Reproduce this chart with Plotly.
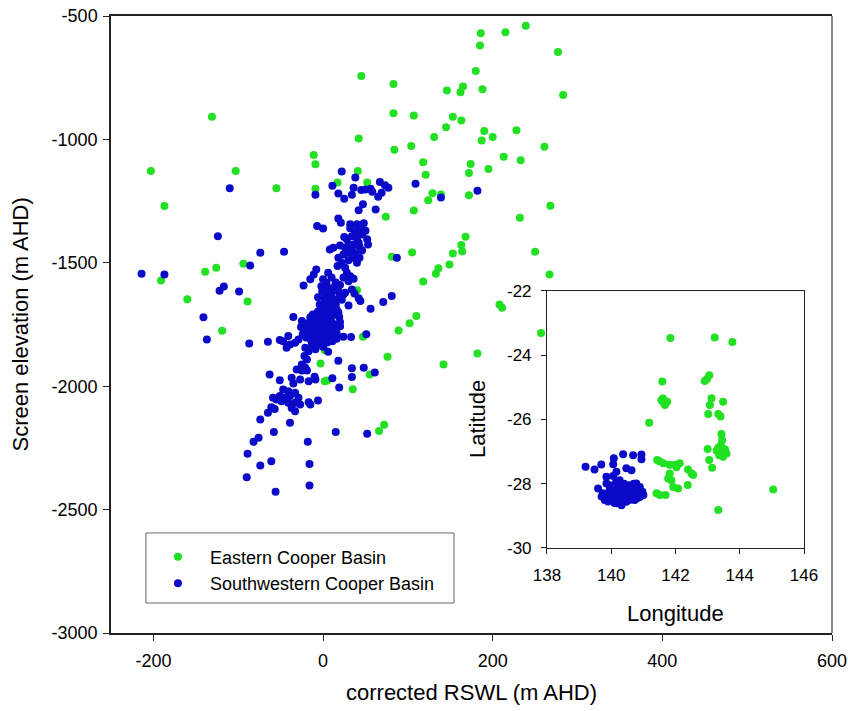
import plotly.graph_objects as go

# ---------------- main panel data ----------------
east_rswl = [-131, -203, -103, -187, -55, -94, -126, -139, -191, -160, -89, -119,
             83, 107, 153, 42, 131, 145, -11, -9, 84, 104, 118, 121, 41, 17, 52, -9,
             129, 124, 139, 74, 107, 81, 105, 153, 136, 133, 149, 118, 40, 110, 102,
             89, 47, 2, -3, 76, 142, 55, 2, 5, 35, 66, 72,
             239, 215, 186, 185, 277, 180, 45, 83, 146, 162, 165, 188, 283, 163, 190,
             228, 187, 200, 261, 213, 233, 174, 172, 195, 172, 268, 232, 168, 163,
             164, 250, 267, 208, 211, 257, 182]
east_elev = [-908, -1128, -1128, -1270, -1198, -1504, -1520, -1536, -1572, -1648, -1657, -1775,
             -894, -903, -908, -996, -990, -951, -1063, -1101, -1042, -1027, -1093, -1143,
             -1128, -1175, -1175, -1200, -1218, -1247, -1223, -1313, -1288, -1475, -1458,
             -1462, -1522, -1544, -1507, -1576, -1611, -1716, -1745, -1774, -1800, -1854,
             -1908, -1881, -1912, -1953, -1980, -1977, -2012, -2182, -2156,
             -540, -566, -570, -620, -646, -723, -743, -776, -802, -809, -786, -797, -820,
             -923, -966, -963, -1004, -990, -1030, -1070, -1084, -1100, -1136, -1120,
             -1226, -1269, -1317, -1394, -1428, -1454, -1455, -1547, -1669, -1682, -1784,
             -1867]

sw_rswl = [-110, -124, -74, -46, -86, -214, -187, -122, -117, -99, -141, -137, -87, -65, -51,
           22, 38, 11, -9, 18, 25, 34, 36, 45, 50, 56, 58, 67, 73, 77, 69, 65, 109, 139, 182,
           47, 42, 62, 18, 21, -7, 0, 32, 40, 48, 38, 34, 28, 30, 36, 42, 46, 52, 53, 26, 34,
           43, 38, 8, 12, 24, 28, 43, 87, -8, -11, -15, -23, 17, 26, 28, 24, 32, 6, 10, 4, 0,
           -2, 6, 14, 2, 10, 18, 26, 34, 81, 71, 56, 30, 42, 44, 24, 37, 15, 16, -1, 8, 14, 6,
           12, -35, -25,
           -15, -9, -4, 2, 8, -13, -6, 1, 8, 14, -17, -9, -2, 5, 12, -13, -6, 1, 8, -8, -1, 5,
           -21, -20, 19, 20, 16, 8, 16, 24, 33, -41, -47, -39, -33, -29, -43,
           -21, -17, -22, -19, -25, -21, -31, -25, -19, -63, -51, -37, -35, -27, -17, -9,
           -47, -41, -51, -45, -39, -33, -29, -55, -49, -41, -33, -27, -59, -15, -6, -61, -57,
           -65, -33, -37, -74, -39, -58, 15, 52, -18, -82, -76, -89, -61, -74, -16, -90, -16,
           -56, 51, 6, 18, 34, 48, 61, 34, 11, 19, -10, -17, -6, 2, -4, 4, 11, -6, -12,
           -18, -12, -3, 4, 10, -16, -10, -3, 3, 10, -14, -4, 3, 11, -11, -5, 2, 9, 15,
           -7, 0, 6, 12, -2, 8, 14, 2, 10, -9, 0, -13, 20, 18, 22, 20, -1, -24, -26, -9,
           15, 20, 30, 36, 22, 30, 35, 40, 18, 25, 40, 44, 32, 50, 20, 46, 30]
sw_elev = [-1198, -1392, -1459, -1455, -1511, -1544, -1547, -1613, -1596, -1616, -1721, -1811,
           -1827, -1820, -1813,
           -1130, -1154, -1188, -1224, -1219, -1240, -1224, -1196, -1205, -1203, -1200, -1212,
           -1173, -1186, -1196, -1216, -1232, -1180, -1235, -1208, -1263, -1287, -1284, -1321,
           -1338, -1351, -1361, -1344, -1344, -1340, -1372, -1392, -1405, -1426, -1426, -1419,
           -1385, -1405, -1426, -1439, -1446, -1435, -1462, -1446, -1439, -1466, -1459, -1480,
           -1480, -1527, -1547, -1567, -1592, -1513, -1520, -1540, -1560, -1554, -1540, -1560,
           -1581, -1567, -1595, -1601, -1595, -1621, -1621, -1615, -1621, -1608, -1635, -1659,
           -1686, -1673, -1644, -1655, -1628, -1624, -1669, -1689, -1616, -1628, -1648, -1661,
           -1673, -1720, -1736,
           -1721, -1730, -1738, -1730, -1721, -1754, -1758, -1758, -1754, -1750, -1778, -1782,
           -1782, -1782, -1778, -1803, -1807, -1807, -1803, -1827, -1831, -1823,
           -1770, -1803, -1720, -1757, -1784, -1811, -1808, -1800, -1801, -1797, -1818, -1831,
           -1824, -1811, -1844,
           -1844, -1858, -1878, -1892, -1912, -1925, -1932, -1936, -1936, -1953, -1976, -1966,
           -1989, -1973, -1980, -1973,
           -2013, -2020, -2040, -2047, -2040, -2027, -2047, -2054, -2061, -2067, -2067, -2074,
           -2047, -2074, -2058, -2085, -2092, -2108, -2101, -2088, -2135, -2148, -2186, -2186,
           -2193, -2225, -2225, -2209, -2274, -2304, -2321, -2315, -2369, -2402, -2428,
           -1790, -1860, -1897, -1927, -1925, -1944, -1963, -1968, -2005, -1962, -2065,
           -1640, -1648, -1669, -1689, -1697, -1697, -1709,
           -1745, -1740, -1748, -1744, -1740, -1795, -1792, -1795, -1793, -1790, -1815, -1815,
           -1817, -1818, -1765, -1770, -1768, -1766, -1765,
           -1712, -1705, -1710, -1712, -1680, -1678, -1680, -1660, -1655, -1840, -1840, -1830,
           -1740, -1700, -1650, -1635, -1710, -1790, -1760, -1850,
           -1580, -1590, -1575, -1565, -1500, -1490, -1480, -1500, -1480, -1395, -1400, -1365,
           -1360, -1370, -1430, -1450, -1455]

# ---------------- inset (map) data ----------------
east_lon = [141.84, 143.22, 143.77, 141.59, 142.98, 142.91, 143.05,
            141.56, 141.63, 141.74, 141.67, 141.61,
            143.12, 143.07, 143.48, 143.02, 143.33, 143.40,
            141.18, 143.43, 143.45, 143.41,
            143.33, 143.54, 143.38, 143.59, 143.48, 143.28, 143.36,
            143.00, 143.05, 143.14,
            141.43, 141.62, 141.82, 141.98, 142.13, 142.03, 141.50,
            142.39, 142.50, 142.55,
            141.82, 141.87, 141.93, 141.77, 142.08, 142.38,
            141.41, 141.51, 141.69, 145.04, 143.33]
east_lat = [-23.46, -23.45, -23.59, -24.82, -24.74, -24.80, -24.62,
            -25.40, -25.47, -25.45, -25.55, -25.35,
            -25.34, -25.55, -25.45, -25.83, -25.83, -25.91,
            -26.10, -26.45, -26.64, -26.80,
            -26.88, -26.93, -27.03, -27.06, -27.16, -26.97, -27.11,
            -26.92, -27.26, -27.50,
            -27.26, -27.36, -27.41, -27.41, -27.36, -27.49, -27.30,
            -27.56, -27.68, -27.73,
            -27.68, -27.89, -28.10, -27.84, -28.15, -28.04,
            -28.30, -28.35, -28.35, -28.18, -28.82]

sw_lon = [139.20, 139.48, 139.69, 140.06, 140.08, 140.37, 140.68, 140.94, 140.94,
          139.85, 140.06, 140.16, 140.47, 140.63,
          139.59, 139.74, 139.80, 139.90, 140.06, 140.00, 140.16, 140.32, 140.37, 140.21,
          140.47, 140.68, 140.78, 140.89, 140.97, 140.89, 140.73, 140.58, 140.47, 140.26,
          140.11, 139.95, 140.26, 139.85,
          139.70, 139.90, 140.00, 140.10, 140.20, 140.30, 140.40, 140.50, 140.60, 140.70,
          140.80, 140.90, 140.60, 140.80, 140.40, 140.20, 139.90, 140.00, 140.30, 140.55,
          140.70, 140.85, 141.00, 140.10, 140.50, 139.95, 140.15, 140.40, 140.65]
sw_lat = [-27.47, -27.56, -27.40, -27.39, -27.21, -27.08, -27.11, -27.09, -27.24,
          -27.78, -27.76, -27.63, -27.52, -27.58,
          -28.15, -28.30, -28.51, -28.41, -28.20, -28.51, -28.61, -28.67, -28.41, -28.10,
          -28.20, -28.10, -27.99, -28.10, -28.25, -28.41, -28.51, -28.41, -28.56, -28.61,
          -28.51, -28.20, -27.89, -27.99,
          -28.40, -28.30, -28.35, -28.40, -28.30, -28.50, -28.30, -28.35, -28.25, -28.30,
          -28.20, -28.30, -28.50, -28.45, -28.55, -28.45, -28.55, -28.20, -28.15, -28.05,
          -28.00, -28.35, -28.35, -28.60, -28.15, -28.05, -27.95, -28.00, -28.15]

# ---------------- axis ticks ----------------
main_x_ticks = [-200, 0, 200, 400, 600]
main_y_ticks = [-3000, -2500, -2000, -1500, -1000, -500]
inset_x_ticks = [138, 140, 142, 144, 146]
inset_y_ticks = [-30, -28, -26, -24, -22]

GREEN = "#22E022"
BLUE = "#0A0AC8"
FONT = "Liberation Sans, Arial, sans-serif"
MS = 8

fig = go.Figure()
fig.add_trace(go.Scatter(x=east_rswl, y=east_elev, mode="markers", name="Eastern Cooper Basin",
                         marker=dict(color=GREEN, size=MS), xaxis="x", yaxis="y"))
fig.add_trace(go.Scatter(x=sw_rswl, y=sw_elev, mode="markers", name="Southwestern Cooper Basin",
                         marker=dict(color=BLUE, size=MS), xaxis="x", yaxis="y"))
fig.add_trace(go.Scatter(x=east_lon, y=east_lat, mode="markers", showlegend=False,
                         marker=dict(color=GREEN, size=MS), xaxis="x2", yaxis="y2"))
fig.add_trace(go.Scatter(x=sw_lon, y=sw_lat, mode="markers", showlegend=False,
                         marker=dict(color=BLUE, size=MS), xaxis="x2", yaxis="y2"))


def ax(**kw):
    d = dict(showgrid=False, zeroline=False, showline=True, linecolor="#222",
             ticks="outside", tickcolor="#222", automargin=False, tickmode="array")
    d.update(kw)
    return d


fig.update_layout(
    width=848, height=711,
    margin=dict(l=111, r=16, t=16, b=78),
    paper_bgcolor="white", plot_bgcolor="white",
    font=dict(family=FONT, color="black"),
    xaxis=ax(domain=[0, 1], range=[-250, 600], tickvals=main_x_ticks,
             ticktext=[str(v) for v in main_x_ticks], ticklen=6, linewidth=1.5, mirror=True,
             tickfont=dict(size=18, color="black"), ticklabelstandoff=5),
    yaxis=ax(domain=[0, 1], range=[-3000, -500], tickvals=main_y_ticks,
             ticktext=[str(v) for v in main_y_ticks], ticklen=6, linewidth=1.5, mirror=False,
             tickfont=dict(size=18, color="black"), ticklabelstandoff=2),
    xaxis2=ax(domain=[0.6047, 0.9612], anchor="y2", range=[138, 146], tickvals=inset_x_ticks,
              ticktext=[str(v) for v in inset_x_ticks], ticklen=5, linewidth=1, mirror=True,
              tickfont=dict(size=17, color="black"), ticklabelstandoff=7),
    yaxis2=ax(domain=[0.1378, 0.5543], anchor="x2", range=[-30, -22], tickvals=inset_y_ticks,
              ticktext=[str(v) for v in inset_y_ticks], ticklen=5, linewidth=1, mirror=True,
              tickfont=dict(size=17, color="black"), ticklabelstandoff=6),
    legend=dict(x=0.0485, y=0.153, xanchor="left", yanchor="top",
                bgcolor="rgba(0,0,0,0)", borderwidth=0, itemwidth=54,
                font=dict(size=18, color="black"), tracegroupgap=0),
    shapes=[
        dict(type="line", xref="paper", yref="paper", x0=1, x1=1, y0=0, y1=1,
             line=dict(color="#888", width=2)),
        dict(type="rect", xref="paper", yref="paper", x0=0.0485, x1=0.4757,
             y0=0.0486, y1=0.1621, line=dict(color="#666", width=1)),
    ],
    annotations=[
        dict(text="corrected RSWL (m AHD)", xref="paper", yref="paper", x=0.5, y=-0.0972,
             xanchor="center", yanchor="middle", showarrow=False, font=dict(size=22)),
        dict(text="Screen elevation (m AHD)", xref="paper", yref="paper", x=-0.1262, y=0.5,
             xanchor="center", yanchor="middle", textangle=-90, showarrow=False,
             font=dict(size=22)),
        dict(text="Longitude", xref="paper", yref="paper", x=0.783, y=0.0324,
             xanchor="center", yanchor="middle", showarrow=False, font=dict(size=22)),
        dict(text="Latitude", xref="paper", yref="paper", x=0.5076, y=0.3468,
             xanchor="center", yanchor="middle", textangle=-90, showarrow=False,
             font=dict(size=22)),
    ],
)

# remove the page's default 8px body margin so the 848x711 figure fills the window exactly
fig.write_html("out.html", config={"displayModeBar": False},
               post_script="document.body.style.margin='0';document.body.style.overflow='hidden';")
